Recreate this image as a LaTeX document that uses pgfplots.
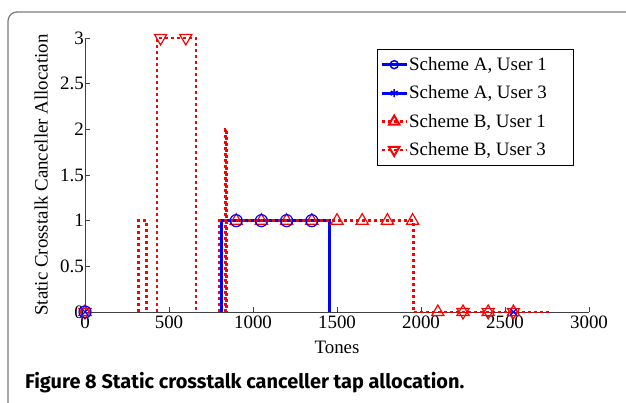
\documentclass[border=0pt]{standalone}
\usepackage{pgfplots}
\pgfplotsset{compat=1.18}
\usepackage{fontspec}
\setmainfont{Liberation Serif}
\newfontfamily\capfont{Fira Sans}
\definecolor{mblue}{RGB}{0,0,255}
\definecolor{mred}{RGB}{255,0,0}
\definecolor{framegray}{RGB}{125,125,125}

\tikzset{
  redline/.style={mred, line width=2.8bp, line cap=butt, dash pattern=on 3bp off 3bp},
  blueline/.style={mblue, line width=3bp},
}

\begin{document}
\begin{tikzpicture}
\useasboundingbox (0,0) rectangle (626bp,403bp);
\fill[white] (0,0) rectangle (626bp,403bp);
\draw[framegray, line width=1.3bp, rounded corners=9bp] (8bp,-30bp) rectangle (680bp,391bp);
\node[anchor=base west, inner sep=0, font=\capfont\bfseries\fontsize{20}{22}\selectfont]
  at (25bp,15bp) {Figure 8 Static crosstalk canceller tap allocation.};

\begin{axis}[
    scale only axis,
    width=504bp, height=274bp,
    at={(85bp,91bp)}, anchor=south west,
    xmin=0, xmax=3000, ymin=0, ymax=3,
    axis x line=bottom, axis y line=left,
    axis line style={-, black!75, line width=0.8bp},
    tick align=inside, major tick length=5bp,
    tick style={black!75, line width=0.8bp},
    xtick={0,500,1000,1500,2000,2500,3000},
    xticklabels={0,500,1000,1500,2000,2500,3000},
    ytick={0,0.5,1,1.5,2,2.5,3},
    yticklabels={0,0.5,1,1.5,2,2.5,3},
    /pgf/number format/assume math mode=true,
    ticklabel style={font=\fontsize{19}{21}\selectfont},
    yticklabel style={inner sep=1bp},
    label style={font=\fontsize{19}{21}\selectfont},
    xlabel={Tones},
    ylabel={Static Crosstalk Canceller Allocation},
    xlabel style={at={(axis description cs:0.5,-0.128)}, anchor=center},
    ylabel style={at={(axis description cs:-0.087,0.5)}, anchor=center},
    clip=false,
    legend style={at={(axis description cs:0.579,0.96)}, anchor=north west,
        draw=black, line width=0.8bp, font=\fontsize{19}{21}\selectfont,
        row sep=11.8bp, inner xsep=3bp, inner ysep=7bp,
        nodes={inner sep=1bp, font=\fontsize{19}{21}\selectfont}},
    legend cell align=left,
    legend image code/.code={\draw[mark repeat=2,mark phase=2,#1]
        plot coordinates {(0bp,0bp)(12.5bp,0bp)(25bp,0bp)};},
]

% lines
\addplot[blueline, mark=none, forget plot] coordinates {
(815,0)(815,1)(1458,1)(1458,0)};
\addplot[redline, mark=none, forget plot, unbounded coords=jump] coordinates {
(798,0)(798,1)(1955,1)(1955,0)(2780,0)};
\addplot[redline, mark=none, forget plot, unbounded coords=jump] coordinates {
(320,0)(320,1)(368,1)(368,0)(400,nan)
(428,0)(428,3)(661,3)(661,0)(700,nan)
(834,0)(834,2)(842,2)(842,0)};

% markers
\addplot[only marks, mred, mark=triangle, mark size=7bp, mark options={line width=1.2bp}, forget plot] coordinates {
(0,0)(900,1)(1050,1)(1200,1)(1350,1)(1500,1)(1650,1)(1800,1)(1950,1)
(2100,0)(2250,0)(2400,0)(2550,0)};
\addplot[only marks, mred, mark=triangle, mark size=7bp, mark options={line width=1.2bp, rotate=180}, forget plot] coordinates {
(0,0)(450,3)(600,3)(2250,0)(2400,0)(2550,0)};
\addplot[only marks, mblue, mark=o, mark size=6bp, mark options={line width=1.2bp}, forget plot] coordinates {
(0,0)(900,1)(1050,1)(1200,1)(1350,1)};
\addplot[only marks, mblue, mark=x, mark size=4.5bp, mark options={line width=1.2bp}, forget plot] coordinates {
(0,0)(2550,0)};

% legend
\addlegendimage{blueline, mark=o, mark size=4bp, mark options={line width=1.5bp, solid}}
\addlegendentry{Scheme A, User 1\hspace*{22bp}}
\addlegendimage{blueline, mark=asterisk, mark size=4bp, mark options={line width=1.5bp, solid}}
\addlegendentry{Scheme A, User 3}
\addlegendimage{redline, mark=triangle, mark size=6bp, mark options={line width=2bp, solid}}
\addlegendentry{Scheme B, User 1}
\addlegendimage{redline, mark=triangle, mark size=6bp, mark options={line width=2bp, solid, rotate=180}}
\addlegendentry{Scheme B, User 3}
\end{axis}
\end{tikzpicture}
\end{document}
